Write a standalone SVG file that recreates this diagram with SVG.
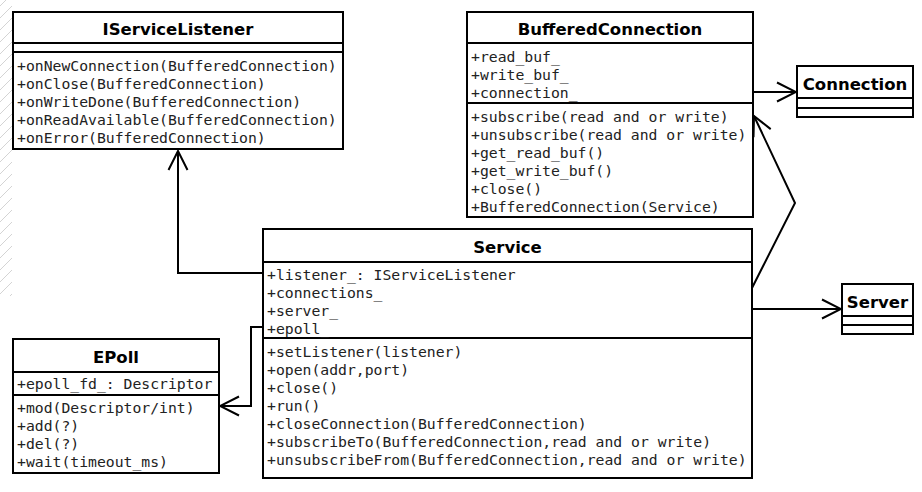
<svg xmlns="http://www.w3.org/2000/svg" width="922" height="492" viewBox="0 0 922 492">
<style>
.box{fill:#fff;stroke:#000;stroke-width:2}
.sep{stroke:#000;stroke-width:2}
.title{font-family:"DejaVu Sans",sans-serif;font-weight:bold;font-size:16.5px;text-anchor:middle;fill:#000}
.mem{font-family:"DejaVu Sans Mono",monospace;font-size:14.75px;fill:#222}
.conn{fill:none;stroke:#000;stroke-width:2}
.hatch{stroke:#d4d4d4;stroke-width:1}
</style>
<defs>
<clipPath id="hc"><rect x="0" y="0" width="12" height="296"/></clipPath>
<marker id="open" viewBox="0 0 22 22" refX="20" refY="11" markerWidth="22" markerHeight="22" markerUnits="userSpaceOnUse" orient="auto">
<path d="M1,1.5 L20,11 L1,20.5" fill="none" stroke="#000" stroke-width="2"/>
</marker>
</defs>
<rect width="922" height="492" fill="#fff"/>
<g clip-path="url(#hc)">
<path class="hatch" d="M0,6 L12,-6 M0,18 L12,6 M0,30 L12,18 M0,42 L12,30 M0,54 L12,42 M0,66 L12,54 M0,78 L12,66 M0,90 L12,78 M0,102 L12,90 M0,114 L12,102 M0,126 L12,114 M0,138 L12,126 M0,150 L12,138 M0,162 L12,150 M0,174 L12,162 M0,186 L12,174 M0,198 L12,186 M0,210 L12,198 M0,222 L12,210 M0,234 L12,222 M0,246 L12,234 M0,258 L12,246 M0,270 L12,258 M0,282 L12,270 M0,294 L12,282 M0,306 L12,294"/>
</g>

<g id="connectors">
<polyline class="conn" points="263,273 178,273 178,151" marker-end="url(#open)"/>
<polyline class="conn" points="263,327 251,327 251,406 220,406" marker-end="url(#open)"/>
<line class="conn" x1="753" y1="92" x2="796" y2="92" marker-end="url(#open)"/>
<line class="conn" x1="752" y1="309" x2="841" y2="309" marker-end="url(#open)"/>
<polyline class="conn" points="752,288 795,203 754,116" marker-end="url(#open)"/>
</g>

<g id="IServiceListener">
<rect class="box" x="13" y="12" width="330" height="137"/>
<line class="sep" x1="13" y1="43" x2="343" y2="43"/>
<line class="sep" x1="13" y1="52" x2="343" y2="52"/>
<text class="title" x="178" y="35">IServiceListener</text>
<text class="mem" x="17" y="71">+onNewConnection(BufferedConnection)</text>
<text class="mem" x="17" y="89">+onClose(BufferedConnection)</text>
<text class="mem" x="17" y="107">+onWriteDone(BufferedConnection)</text>
<text class="mem" x="17" y="125">+onReadAvailable(BufferedConnection)</text>
<text class="mem" x="17" y="143">+onError(BufferedConnection)</text>
</g>

<g id="BufferedConnection">
<rect class="box" x="467" y="12" width="286" height="205"/>
<line class="sep" x1="467" y1="43" x2="753" y2="43"/>
<line class="sep" x1="467" y1="103" x2="753" y2="103"/>
<text class="title" x="610" y="35">BufferedConnection</text>
<text class="mem" x="471" y="62">+read_buf_</text>
<text class="mem" x="471" y="80">+write_buf_</text>
<text class="mem" x="471" y="98">+connection_</text>
<text class="mem" x="471" y="122">+subscribe(read and or write)</text>
<text class="mem" x="471" y="140">+unsubscribe(read and or write)</text>
<text class="mem" x="471" y="158">+get_read_buf()</text>
<text class="mem" x="471" y="176">+get_write_buf()</text>
<text class="mem" x="471" y="194">+close()</text>
<text class="mem" x="471" y="212">+BufferedConnection(Service)</text>
</g>

<g id="Connection">
<rect class="box" x="797" y="66" width="116" height="51"/>
<line class="sep" x1="797" y1="98" x2="913" y2="98"/>
<line class="sep" x1="797" y1="108" x2="913" y2="108"/>
<text class="title" x="855" y="90">Connection</text>
</g>

<g id="Server">
<rect class="box" x="842" y="284" width="71" height="50"/>
<line class="sep" x1="842" y1="316" x2="913" y2="316"/>
<line class="sep" x1="842" y1="325" x2="913" y2="325"/>
<text class="title" x="877.5" y="308">Server</text>
</g>

<g id="Service">
<rect class="box" x="263" y="229" width="489" height="249"/>
<line class="sep" x1="263" y1="262" x2="752" y2="262"/>
<line class="sep" x1="263" y1="338" x2="752" y2="338"/>
<text class="title" x="507.5" y="253">Service</text>
<text class="mem" x="267" y="280">+listener_: IServiceListener</text>
<text class="mem" x="267" y="298">+connections_</text>
<text class="mem" x="267" y="316">+server_</text>
<text class="mem" x="267" y="334">+epoll_</text>
<text class="mem" x="267" y="357">+setListener(listener)</text>
<text class="mem" x="267" y="375">+open(addr,port)</text>
<text class="mem" x="267" y="393">+close()</text>
<text class="mem" x="267" y="411">+run()</text>
<text class="mem" x="267" y="429">+closeConnection(BufferedConnection)</text>
<text class="mem" x="267" y="447">+subscribeTo(BufferedConnection,read and or write)</text>
<text class="mem" x="267" y="465">+unsubscribeFrom(BufferedConnection,read and or write)</text>
</g>

<g id="EPoll">
<rect class="box" x="13" y="339" width="206" height="134"/>
<line class="sep" x1="13" y1="372" x2="219" y2="372"/>
<line class="sep" x1="13" y1="395" x2="219" y2="395"/>
<text class="title" x="116" y="363">EPoll</text>
<text class="mem" x="17" y="389">+epoll_fd_: Descriptor</text>
<text class="mem" x="17" y="413">+mod(Descriptor/int)</text>
<text class="mem" x="17" y="431">+add(?)</text>
<text class="mem" x="17" y="449">+del(?)</text>
<text class="mem" x="17" y="467">+wait(timeout_ms)</text>
</g>
</svg>
